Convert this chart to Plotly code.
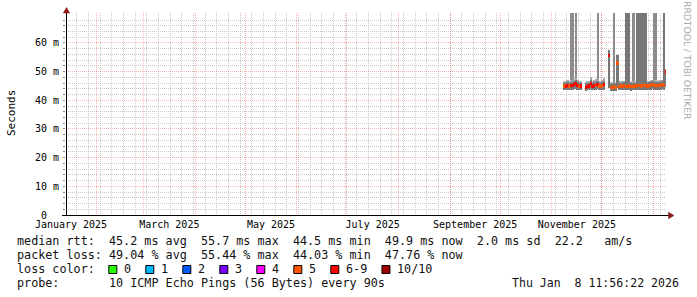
import plotly.graph_objects as go
import pandas as pd

# ---------------- data ----------------
day_start = "2025-11-08"
day_end = "2026-01-08"

median_ms = [
    45.0, 44.8, 45.2, 45.0, 45.3, 45.1, 45.6, 46.0, 45.2, 44.9, 45.0,
    None, None,
    44.6, 44.8, 45.0, 45.8, 44.9, 45.1, 45.3, 45.5, 45.0, 44.8, 45.2, 45.4,
    None, None,
    55.7, 44.6, 44.5, 44.7, 44.6, 53.0, 44.8, 45.0, 44.9, 45.1,
    44.8, 44.9, 45.0, 44.7, 44.9, 45.0, 44.8, 45.1, 45.2, 45.0,
    45.3, 45.1, 45.2, 45.0, 45.1, 45.3, 45.4,
    45.2, 45.3, 45.1, 45.2, 45.3, 45.4, 45.2, 49.9,
]
loss_count = [
    5, 6, 6, 5, 6, 6, 6, 6, 6, 5, 6,
    None, None,
    6, 6, 6, 6, 6, 6, 5, 6, 5, 5, 5, 6,
    None, None,
    6, 5, 5, 5, 5, 5, 5, 5, 5, 5,
    5, 5, 5, 5, 5, 5, 5, 5, 5, 5,
    5, 5, 5, 5, 5, 5, 5,
    5, 5, 5, 5, 5, 5, 5, 6,
]
ping_min = [
    43.6, 43.5, 43.7, 43.6, 43.6, 43.5, 43.8, 43.9, 43.6, 43.5, 43.6,
    None, None,
    43.4, 43.5, 43.6, 43.8, 43.5, 43.6, 43.7, 43.8, 43.6, 43.5, 43.6, 43.7,
    None, None,
    44.2, 43.4, 43.3, 43.4, 43.4, 44.2, 43.5, 43.6, 43.5, 43.6,
    43.5, 43.5, 43.6, 43.4, 43.5, 43.6, 43.5, 43.6, 43.7, 43.6,
    43.7, 43.6, 43.7, 43.6, 43.6, 43.7, 43.8,
    43.7, 43.7, 43.6, 43.7, 43.7, 43.8, 43.7, 44.5,
]
ping_dense_top = [
    46.2, 46.0, 46.4, 46.2, 46.5, 46.3, 46.8, 47.2, 46.4, 46.1, 46.2,
    None, None,
    45.9, 46.0, 46.2, 47.0, 46.1, 46.3, 46.5, 46.7, 46.2, 46.0, 46.4, 46.6,
    None, None,
    57.6, 45.8, 45.7, 45.9, 45.8, 55.8, 46.0, 46.2, 46.1, 46.3,
    80.0, 80.0, 80.0, 45.9, 46.1, 46.2, 46.0, 80.0, 80.0, 80.0,
    80.0, 80.0, 80.0, 46.2, 46.3, 46.5, 46.6,
    46.4, 46.5, 46.3, 46.4, 46.5, 46.6, 80.0, 50.5,
]
ping_max = [
    46.8, 46.6, 47.0, 46.9, 80.0, 80.0, 47.4, 80.0, 47.0, 46.7, 46.8,
    None, None,
    46.5, 46.7, 46.9, 48.3, 46.8, 47.0, 47.3, 80.0, 46.9, 46.7, 47.1, 47.8,
    None, None,
    57.6, 46.4, 46.3, 80.0, 46.4, 55.8, 46.6, 46.8, 46.7, 46.9,
    80.0, 80.0, 80.0, 46.5, 80.0, 80.0, 46.6, 80.0, 80.0, 80.0,
    80.0, 80.0, 80.0, 46.8, 46.9, 47.1, 47.2,
    80.0, 80.0, 46.9, 47.0, 47.1, 47.2, 80.0, 51.0,
]

loss_labels = ["0", "1", "2", "3", "4", "5", "6-9", "10/10"]
loss_colors = ["#26ff00", "#00b8ff", "#0059ff", "#7e00ff", "#ff00fe", "#ff5500", "#ff0000", "#a10000"]

y_tick_vals = [0, 10, 20, 30, 40, 50, 60]
y_tick_text = ["0\u00a0\u00a0", "10 m", "20 m", "30 m", "40 m", "50 m", "60 m"]

stat_line1 = "median rtt:  45.2 ms avg  55.7 ms max  44.5 ms min  49.9 ms now  2.0 ms sd  22.2   am/s"
stat_line2 = "packet loss: 49.04 % avg  55.44 % max  44.03 % min  47.76 % now"
stat_line3 = "loss color:"
stat_line4 = "probe:       10 ICMP Echo Pings (56 Bytes) every 90s"
stamp_text = "Thu Jan  8 11:56:22 2026"
y_title = "Seconds"
watermark = "RRDTOOL / TOBI OETIKER"

# ---------------- layout helpers ----------------
W, H = 697, 297
L, R, T, B = 66, 31, 13, 82
PW = W - L - R
PH = H - T - B


def px_x(px):
    return (px - L) / PW


def px_y(py):
    return (H - B - py) / PH


MONO = "DejaVu Sans Mono"
START = pd.Timestamp("2025-01-13 11:56:22")
END = pd.Timestamp("2026-01-08 11:56:22")
DAY_MS = 86400000
SPIKE_LEVEL = 60

days = pd.date_range(day_start, day_end, freq="D")
centers = days + pd.Timedelta(hours=12)

light_base, light_h, spike_base, spike_h = [], [], [], []
dark_base, dark_h, med_base, med_h, med_col = [], [], [], [], []
for lo, q, hi, m, lc in zip(ping_min, ping_dense_top, ping_max, median_ms, loss_count):
    if lo is None:
        for arr in (light_base, light_h, spike_base, spike_h, dark_base, dark_h, med_base, med_h):
            arr.append(None)
        med_col.append("#000000")
        continue
    top = hi if hi < SPIKE_LEVEL else q + 0.6
    light_base.append(lo)
    light_h.append(max(top, q) - lo)
    if hi >= SPIKE_LEVEL and q < SPIKE_LEVEL:
        spike_base.append(q)
        spike_h.append(hi - q)
    else:
        spike_base.append(None)
        spike_h.append(None)
    dark_base.append(lo)
    dark_h.append(q - lo)
    med_base.append(m - 0.55)
    med_h.append(1.1)
    idx = 6 if 6 <= lc <= 9 else (7 if lc == 10 else lc)
    med_col.append(loss_colors[idx])

fig = go.Figure()
fig.add_trace(go.Bar(x=centers, y=spike_h, base=spike_base, width=0.62 * DAY_MS,
                     marker=dict(color="#8c8c8c", line=dict(width=0)), hoverinfo="skip", showlegend=False))
fig.add_trace(go.Bar(x=centers, y=light_h, base=light_base, width=DAY_MS,
                     marker=dict(color="#aaaaaa", line=dict(width=0)), hoverinfo="skip", showlegend=False))
fig.add_trace(go.Bar(x=centers, y=dark_h, base=dark_base, width=DAY_MS,
                     marker=dict(color="#777777", line=dict(width=0)), hoverinfo="skip", showlegend=False))
fig.add_trace(go.Bar(x=centers, y=med_h, base=med_base, width=DAY_MS,
                     marker=dict(color=med_col, line=dict(width=0)), hoverinfo="skip", showlegend=False))
# invisible trace to carry the label axis
fig.add_trace(go.Scatter(x=centers, y=median_ms, xaxis="x2", mode="lines", opacity=0,
                         hoverinfo="skip", showlegend=False))

month_starts = pd.date_range("2025-02-01", "2026-01-01", freq="MS")
label_months = pd.date_range("2025-01-01", "2025-11-01", freq="2MS")
label_pos = [m + (m + pd.offsets.MonthBegin(1) - m) / 2 for m in label_months]
label_text = [m.strftime("%B %Y") for m in label_months]

grid_major = "rgba(255,0,0,0.30)"
grid_minor = "#c9c9c9"
DASH = "1px,1px"

minor_y = [v for v in range(2, 70, 2) if v % 10 != 0]

fig.update_layout(
    width=W, height=H,
    margin=dict(l=L, r=R, t=T, b=B, pad=0),
    paper_bgcolor="white", plot_bgcolor="white",
    barmode="overlay", bargap=0,
    showlegend=False,
    font=dict(family=MONO, size=10, color="#000"),
    xaxis=dict(
        type="date", range=[START, END],
        tickmode="array", tickvals=month_starts, showticklabels=False,
        showgrid=True, gridcolor=grid_major, griddash=DASH, gridwidth=1,
        minor=dict(tickmode="linear", tick0="2025-01-20", dtick=7 * DAY_MS,
                   showgrid=True, gridcolor=grid_minor, griddash=DASH, gridwidth=1),
        ticks="", showline=False, zeroline=False, fixedrange=True,
    ),
    xaxis2=dict(
        overlaying="x", matches="x", anchor="y", side="bottom",
        tickmode="array", tickvals=label_pos, ticktext=label_text,
        tickfont=dict(family=MONO, size=10, color="#000"),
        showgrid=False, ticks="", showline=False, zeroline=False,
        ticklabelstandoff=2,
    ),
    yaxis=dict(
        range=[0, 70.45],
        tickmode="array", tickvals=y_tick_vals, ticktext=y_tick_text,
        tickfont=dict(family=MONO, size=10, color="#000"),
        showgrid=True, gridcolor=grid_major, griddash=DASH, gridwidth=1,
        minor=dict(tickmode="array", tickvals=minor_y, showgrid=True,
                   gridcolor=grid_minor, griddash=DASH, gridwidth=1,
                   ticks="outside", ticklen=2, tickcolor="#888"),
        ticks="outside", ticklen=2, tickcolor="#888",
        showline=False, zeroline=False, ticklabelstandoff=2,
    ),
)

shapes = []
shapes.append(dict(type="line", xref="paper", yref="paper", x0=px_x(62), x1=px_x(669),
                   y0=px_y(215.5), y1=px_y(215.5), line=dict(color="#000", width=1)))
shapes.append(dict(type="line", xref="paper", yref="paper", x0=px_x(66.5), x1=px_x(66.5),
                   y0=px_y(215.5), y1=px_y(11), line=dict(color="#000", width=1)))
arrow_col = "#8f1a1a"
shapes.append(dict(type="path", xref="paper", yref="paper",
                   path=f"M{px_x(66.5)},{px_y(7.5)} L{px_x(63.3)},{px_y(13)} L{px_x(69.7)},{px_y(13)} Z",
                   fillcolor=arrow_col, line=dict(color=arrow_col, width=0.5)))
shapes.append(dict(type="path", xref="paper", yref="paper",
                   path=f"M{px_x(674)},{px_y(215.5)} L{px_x(668.5)},{px_y(212.3)} L{px_x(668.5)},{px_y(218.7)} Z",
                   fillcolor=arrow_col, line=dict(color=arrow_col, width=0.5)))

annotations = []


def nb(s):
    return s.replace(" ", "\u00a0")


TXT = 11.75
TXT_COL = "#111"
line_y = [241.5, 255.3, 269.2, 283.2]
for txt, yy in zip([stat_line1, stat_line2, stat_line3, stat_line4], line_y):
    annotations.append(dict(text=nb(txt), x=px_x(15), y=px_y(yy), xref="paper", yref="paper",
                            xanchor="left", yanchor="middle", showarrow=False,
                            font=dict(family=MONO, size=TXT, color=TXT_COL)))
annotations.append(dict(text=nb(stamp_text), x=px_x(681), y=px_y(line_y[3]), xref="paper", yref="paper",
                        xanchor="right", yanchor="middle", showarrow=False,
                        font=dict(family=MONO, size=11.55, color=TXT_COL)))

sq_x = 108.3
for lab, col in zip(loss_labels, loss_colors):
    shapes.append(dict(type="rect", xref="paper", yref="paper",
                       x0=px_x(sq_x + 0.5), x1=px_x(sq_x + 8.5), y0=px_y(265.5), y1=px_y(273.5),
                       fillcolor=col, line=dict(color="#000", width=1)))
    annotations.append(dict(text=nb(lab), x=px_x(sq_x + 14), y=px_y(line_y[2]), xref="paper", yref="paper",
                            xanchor="left", yanchor="middle", showarrow=False,
                            font=dict(family=MONO, size=TXT, color=TXT_COL)))
    sq_x += 37 + 7.08 * (len(lab) - 1)

annotations.append(dict(text=y_title, x=px_x(11), y=px_y(113), xref="paper", yref="paper",
                        xanchor="center", yanchor="middle", textangle=-90, showarrow=False,
                        font=dict(family=MONO, size=11, color="#000")))
annotations.append(dict(text=nb(watermark), x=px_x(688), y=px_y(60), xref="paper", yref="paper",
                        xanchor="center", yanchor="middle", textangle=90, showarrow=False,
                        font=dict(family="DejaVu Sans", size=9.2, color="#aaaaaa")))

fig.update_layout(shapes=shapes, annotations=annotations)
fig.write_html("out.html", include_plotlyjs=True, config={"displayModeBar": False})
